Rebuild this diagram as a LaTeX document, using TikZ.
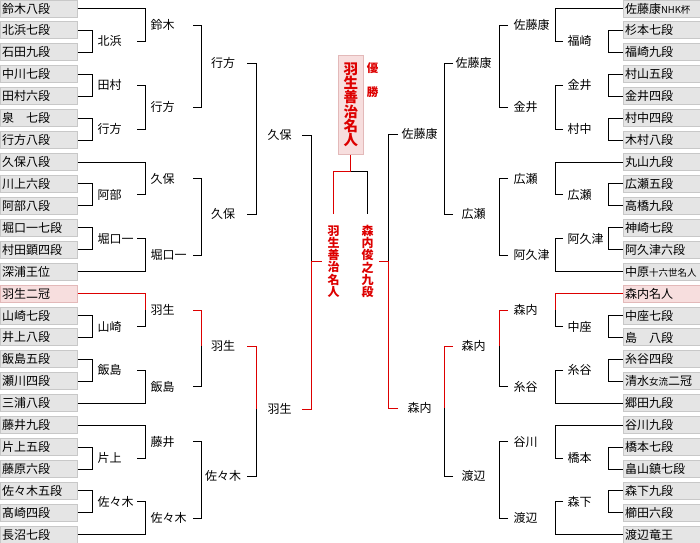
\documentclass[tikz,border=0pt]{standalone}
\usepackage{fontspec}
\setmainfont{Noto Sans CJK JP}
\definecolor{winRed}{HTML}{DD0000}
\definecolor{boxFill}{HTML}{E5E5E5}
\definecolor{boxEdge}{HTML}{C8C8C8}
\definecolor{pinkFill}{HTML}{F7DEDE}
\definecolor{pinkEdge}{HTML}{E3B9B9}
\newcommand\minor[1]{{\fontsize{9.5pt}{10pt}\selectfont #1}}

\begin{document}
\begin{tikzpicture}[x=1pt, y=-1pt, line width=1pt,
    pbox/.style={rectangle, draw=boxEdge, fill=boxFill, minimum height=17pt,
                 text width=73pt, inner xsep=2pt, inner ysep=0pt, align=left,
                 font=\fontsize{12pt}{12pt}\selectfont},
    row13/.style={draw=pinkEdge, fill=pinkFill},
    lbl/.style={inner sep=0pt, font=\fontsize{12pt}{12pt}\selectfont},
    winline/.style={draw=winRed},
    final/.style={align=center, inner xsep=5pt, inner ysep=11pt, text=winRed,
                  font=\bfseries\fontsize{12pt}{12.2pt}\selectfont},
    champbox/.style={rectangle, draw=pinkEdge, fill=pinkFill, minimum width=25pt,
                     minimum height=99pt, inner sep=0pt, align=center, text=winRed,
                     font=\bfseries\fontsize{14.5pt}{14.3pt}\selectfont},
    yusho/.style={align=center, inner sep=0pt, text=winRed,
                  font=\bfseries\fontsize{11.5pt}{23.7pt}\selectfont},
  ]
    \useasboundingbox (0,0) rectangle (700,542);

    \foreach \n [count=\i from 0] in {鈴木八段,北浜七段,石田九段,中川七段,田村六段,
        泉　七段,行方八段,久保八段,川上六段,阿部八段,堀口一七段,村田顕四段,深浦王位,
        羽生二冠,山崎七段,井上八段,飯島五段,瀬川四段,三浦八段,藤井九段,片上五段,
        藤原六段,佐々木五段,髙崎四段,長沼七段}
      \node[pbox, row\i/.try] (L\i) at (38.5, 8.5+21.93*\i) {\n};
    \foreach \n [count=\i from 0] in {佐藤康\minor{NHK杯},杉本七段,福崎九段,村山五段,
        金井四段,村中四段,木村八段,丸山九段,広瀬五段,高橋九段,神崎七段,阿久津六段,
        中原\minor{十六世名人},森内名人,中座七段,島　八段,糸谷四段,清水\minor{女流}二冠,
        郷田九段,谷川九段,橋本七段,畠山鎮七段,森下九段,櫛田六段,渡辺竜王}
      \node[pbox, row\i/.try] (R\i) at (661.5, 8.5+21.93*\i) {\n};

    \foreach \nm/\y/\t in {a1/41.4/北浜, a2/85.3/田村, a3/129.1/行方, a4/194.9/阿部,
        a5/238.8/堀口一, a6/326.5/山崎, a7/370.3/飯島, a8/458.1/片上, a9/501.9/佐々木}
      \node[lbl, anchor=west] (\nm) at (97,\y) {\t};
    \foreach \nm/\y/\t in {b1/25/鈴木, b2/107.2/行方, b3/178.5/久保, b4/255.2/堀口一,
        b5/310/羽生, b6/386.8/飯島, b7/441.6/藤井, b8/518.4/佐々木}
      \node[lbl, anchor=west] (\nm) at (150,\y) {\t};
    \foreach \nm/\y/\t in {c1/63/行方, c2/214/久保, c3/346/羽生, c4/476/佐々木}
      \node[lbl] (\nm) at (223,\y) {\t};
    \foreach \nm/\y/\t in {d1/135/久保, d2/409/羽生}
      \node[lbl] (\nm) at (279.5,\y) {\t};

    \foreach \nm/\y/\t in {e1/41.4/福崎, e2/85.3/金井, e3/129.1/村中, e4/194.9/広瀬,
        e5/238.8/阿久津, e6/326.5/中座, e7/370.3/糸谷, e8/458.1/橋本, e9/501.9/森下}
      \node[lbl, anchor=west] (\nm) at (567,\y) {\t};
    \foreach \nm/\y/\t in {f1/25/佐藤康, f2/107.2/金井, f3/178.5/広瀬, f4/255.2/阿久津,
        f5/310/森内, f6/386.8/糸谷, f7/441.6/谷川, f8/518.4/渡辺}
      \node[lbl, anchor=west] (\nm) at (513,\y) {\t};
    \foreach \nm/\y/\t in {g1/63/佐藤康, g2/214/広瀬, g3/346/森内, g4/476/渡辺}
      \node[lbl] (\nm) at (473.5,\y) {\t};
    \foreach \nm/\y/\t in {h1/134/佐藤康, h2/408/森内}
      \node[lbl] (\nm) at (419.5,\y) {\t};

    \node[final] (fL) at (333.5,261.5) {羽\\生\\善\\治\\名\\人};
    \node[final] (fR) at (367.5,261.5) {森\\内\\俊\\之\\九\\段};
    \node[champbox] (champ) at (350.8,104.7) {羽\\生\\善\\治\\名\\人};
    \node[yusho] (yu) at (372.5,80.2) {優\\勝};
    \coordinate (j0) at (350.8,171);

    \coordinate (v1) at (92,0);  \coordinate (s2) at (137,0); \coordinate (v2) at (145,0);
    \coordinate (s3) at (193,0); \coordinate (v3) at (201,0); \coordinate (s4) at (247,0);
    \coordinate (v4) at (256,0); \coordinate (s5) at (302,0); \coordinate (v5) at (311,0);
    \coordinate (w1) at (608,0); \coordinate (t2) at (563,0); \coordinate (w2) at (555,0);
    \coordinate (t3) at (508,0); \coordinate (w3) at (499,0); \coordinate (t4) at (453,0);
    \coordinate (w4) at (444,0); \coordinate (t5) at (398,0); \coordinate (w5) at (388,0);

    % left side
    \foreach \t/\b/\w in {1/2/a1,3/4/a2,5/6/a3,8/9/a4,10/11/a5,14/15/a6,16/17/a7,20/21/a8,22/23/a9}
      \draw (L\t.east) -| (\w -| v1) (L\b.east) -| (\w -| v1);
    \draw (L0.east) -| (b1 -| v2) (a1 -| s2) -| (b1 -| v2);
    \draw (a2 -| s2) -| (b2 -| v2) (a3 -| s2) -| (b2 -| v2);
    \draw (L7.east) -| (b3 -| v2) (a4 -| s2) -| (b3 -| v2);
    \draw (a5 -| s2) -| (b4 -| v2) (L12.east) -| (b4 -| v2);
    \draw (a6 -| s2) -| (b5 -| v2);
    \draw[winline] (L13.east) -| (b5 -| v2);
    \draw (a7 -| s2) -| (b6 -| v2) (L18.east) -| (b6 -| v2);
    \draw (L19.east) -| (b7 -| v2) (a8 -| s2) -| (b7 -| v2);
    \draw (a9 -| s2) -| (b8 -| v2) (L24.east) -| (b8 -| v2);
    \foreach \t/\b/\w in {b1/b2/c1, b3/b4/c2, b7/b8/c4}
      \draw (\t -| s3) -| (\w -| v3) (\b -| s3) -| (\w -| v3);
    \draw (b6 -| s3) -| (c3 -| v3);
    \draw[winline] (b5 -| s3) -| (c3 -| v3);
    \draw (c1 -| s4) -| (d1 -| v4) (c2 -| s4) -| (d1 -| v4);
    \draw (c4 -| s4) -| (d2 -| v4);
    \draw[winline] (c3 -| s4) -| (d2 -| v4);
    \draw (d1 -| s5) -| (fL -| v5);
    \draw[winline] (d2 -| s5) -| (fL -| v5) -- (fL.west);

    % right side
    \foreach \t/\b/\w in {1/2/e1,3/4/e2,5/6/e3,8/9/e4,10/11/e5,14/15/e6,16/17/e7,20/21/e8,22/23/e9}
      \draw (R\t.west) -| (\w -| w1) (R\b.west) -| (\w -| w1);
    \draw (R0.west) -| (f1 -| w2) (e1 -| t2) -| (f1 -| w2);
    \draw (e2 -| t2) -| (f2 -| w2) (e3 -| t2) -| (f2 -| w2);
    \draw (R7.west) -| (f3 -| w2) (e4 -| t2) -| (f3 -| w2);
    \draw (e5 -| t2) -| (f4 -| w2) (R12.west) -| (f4 -| w2);
    \draw (e6 -| t2) -| (f5 -| w2);
    \draw[winline] (R13.west) -| (f5 -| w2);
    \draw (e7 -| t2) -| (f6 -| w2) (R18.west) -| (f6 -| w2);
    \draw (R19.west) -| (f7 -| w2) (e8 -| t2) -| (f7 -| w2);
    \draw (e9 -| t2) -| (f8 -| w2) (R24.west) -| (f8 -| w2);
    \foreach \t/\b/\w in {f1/f2/g1, f3/f4/g2, f7/f8/g4}
      \draw (\t -| t3) -| (\w -| w3) (\b -| t3) -| (\w -| w3);
    \draw (f6 -| t3) -| (g3 -| w3);
    \draw[winline] (f5 -| t3) -| (g3 -| w3);
    \draw (g1 -| t4) -| (h1 -| w4) (g2 -| t4) -| (h1 -| w4);
    \draw (g4 -| t4) -| (h2 -| w4);
    \draw[winline] (g3 -| t4) -| (h2 -| w4);
    \draw (h1 -| t5) -| (fR -| w5);
    \draw[winline] (h2 -| t5) -| (fR -| w5) -- (fR.east);

    % final
    \draw (fR.north) |- (j0);
    \draw[winline] (fL.north) |- (j0) -- (champ.south);
  \end{tikzpicture}
\end{document}
